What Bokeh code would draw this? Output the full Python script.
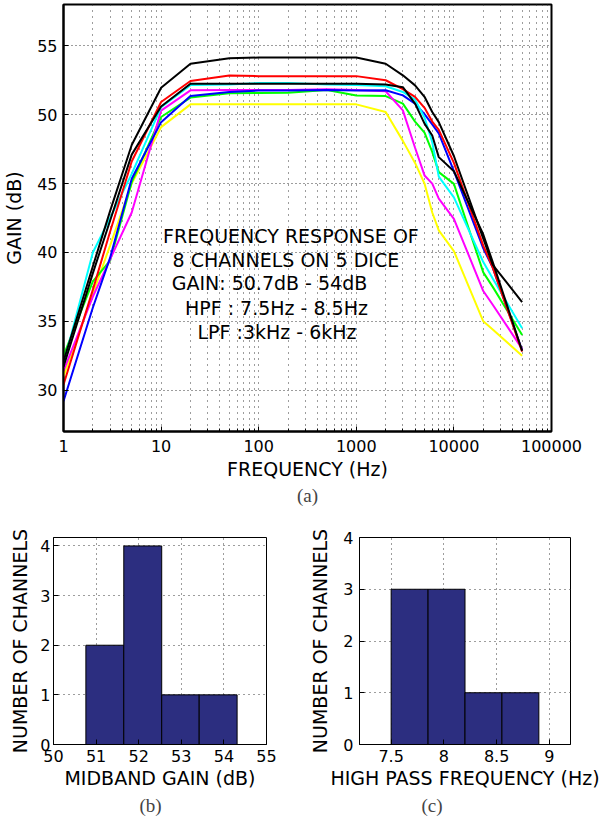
from bokeh.plotting import figure
from bokeh.models import Range1d, FixedTicker, Title
from bokeh.layouts import column, row
from bokeh.core.properties import value
from bokeh.embed import file_html
from bokeh.resources import INLINE

# ---------------- data ----------------
freq_hz = [1, 2, 3, 5, 10, 20, 50, 100, 200, 500, 1000, 2000, 3000, 4000,
           5000, 6000, 7000, 10000, 20000, 25000, 50000]

gain_black_a = [32.1, 39.0, 43.0, 47.8, 51.96, 53.7, 54.1, 54.15, 54.15, 54.15, 54.15,
                53.7, 52.86, 52.13, 51.3, 50.2, 49.46, 47.0, 41.0, 39.1, 36.4]
gain_red = [30.4, 37.3, 41.5, 46.6, 50.92, 52.45, 52.85, 52.8, 52.8, 52.8, 52.8,
            52.5, 51.85, 51.3, 50.5, 49.5, 48.9, 46.5, 40.5, 38.9, 32.8]
gain_black_b = [31.7, 38.5, 42.3, 47.1, 50.6, 52.25, 52.25, 52.25, 52.25, 52.25, 52.25,
                52.2, 52.0, 50.8, 49.35, 48.49, 46.92, 45.9, 41.3, 39.3, 32.85]
gain_cyan = [31.9, 40.0, 42.5, 45.7, 50.55, 52.15, 52.2, 52.3, 52.3, 52.2, 52.15,
             52.06, 51.65, 51.09, 49.8, 48.0, 45.5, 44.0, 39.3, 38.1, 34.5]
gain_blue = [29.2, 36.0, 39.6, 45.35, 49.46, 51.35, 51.65, 51.75, 51.75, 51.8, 51.75,
             51.77, 51.4, 50.8, 50.04, 49.3, 48.64, 45.9, 40.3, 38.9, 32.9]
gain_magenta = [31.4, 36.8, 39.5, 42.9, 50.3, 51.77, 51.8, 51.8, 51.8, 51.85, 51.8,
                51.7, 50.31, 47.6, 45.59, 45.0, 43.9, 42.44, 37.2, 36.2, 33.0]
gain_green = [32.5, 37.9, 39.4, 45.1, 49.83, 51.24, 51.55, 51.57, 51.6, 51.8, 51.4,
              51.35, 50.8, 49.5, 48.7, 47.3, 45.83, 44.98, 38.55, 37.5, 34.0]
gain_yellow = [31.0, 37.0, 40.5, 45.0, 49.1, 50.75, 50.75, 50.75, 50.75, 50.75, 50.75,
               50.2, 48.1, 46.5, 45.0, 42.9, 41.6, 40.1, 35.0, 34.4, 32.5]

series = [
    ("#ffff00", gain_yellow),
    ("#00ff00", gain_green),
    ("#ff00ff", gain_magenta),
    ("#0000ff", gain_blue),
    ("#00ffff", gain_cyan),
    ("#ff0000", gain_red),
    ("#000000", gain_black_b),
    ("#000000", gain_black_a),
]

x_ticks = [1, 10, 100, 1000, 10000, 100000]
x_tick_labels = ["1", "10", "100", "1000", "10000", "100000"]
x_minor_ticks = [k * 10 ** d for d in range(0, 5) for k in range(2, 10)]
y_ticks = [30, 35, 40, 45, 50, 55]

note_lines = ["FREQUENCY RESPONSE OF", "8 CHANNELS ON 5 DICE", "GAIN: 50.7dB - 54dB",
              "HPF : 7.5Hz - 8.5Hz", "LPF :3kHz - 6kHz"]
note_x = [214, 190, 129, 152, 154]
note_y = [41.22, 39.47, 37.75, 35.98, 34.19]

gain_bin_edges = [50.76, 51.65, 52.54, 53.42, 54.31]
gain_bin_counts = [2, 4, 1, 1]
gain_ticks = [50, 51, 52, 53, 54, 55]

hpf_bin_edges = [7.5, 7.85, 8.2, 8.55, 8.9]
hpf_bin_counts = [3, 3, 1, 1]
hpf_ticks = [7.5, 8, 8.5, 9]
hpf_tick_labels = ["7.5", "8", "8.5", "9"]
count_ticks = [0, 1, 2, 3, 4]

SANS = "DejaVu Sans"
SERIF = "Liberation Serif"
BAR = "#2c2e80"
GRID = "#3a3a3a"


def style_axes(fig, tick_px, label_px, line_w):
    for ax in fig.axis:
        ax.major_label_text_font = SANS
        ax.major_label_text_font_size = f"{tick_px}px"
        ax.major_label_text_color = "black"
        ax.axis_label_text_font = SANS
        ax.axis_label_text_font_size = f"{label_px}px"
        ax.axis_label_text_font_style = "normal"
        ax.axis_label_text_color = "black"
        ax.axis_line_color = "black"
        ax.axis_line_width = line_w
        ax.major_tick_in = 5
        ax.major_tick_out = 0
        ax.major_tick_line_color = "black"
        ax.minor_tick_in = 3
        ax.minor_tick_out = 0
    fig.outline_line_color = "black"
    fig.outline_line_width = line_w
    fig.outline_line_alpha = 1.0


# ---------------- (a) frequency response ----------------
p = figure(width=602, height=507, x_axis_type="log",
           x_range=Range1d(1, 100000), y_range=Range1d(27, 58),
           output_backend="svg", toolbar_location=None,
           min_border_left=63, min_border_right=51, min_border_top=4,
           min_border_bottom=76, background_fill_color="white")

for color, gains in series:
    p.line(freq_hz, gains, line_color=color, line_width=2)

for txt, tx, ty in zip(note_lines, note_x, note_y):
    p.text(x=[tx], y=[ty], text=[txt], text_align="center", text_baseline="middle",
           text_font=value(SANS), text_font_size="19px", text_color="black")

xt = FixedTicker(ticks=x_ticks, minor_ticks=x_minor_ticks)
p.xaxis.ticker = xt
p.xaxis.major_label_overrides = {t: l for t, l in zip(x_ticks, x_tick_labels)}
p.yaxis.ticker = FixedTicker(ticks=y_ticks)
p.yaxis.minor_tick_line_color = None
p.xaxis.axis_label = "FREQUENCY (Hz)"
p.yaxis.axis_label = "GAIN (dB)"
style_axes(p, 16, 19, 2)
p.xaxis.major_label_standoff = 8
p.xaxis.axis_label_standoff = 3
p.yaxis.major_label_standoff = 6
p.yaxis.axis_label_standoff = 9

p.xgrid.grid_line_color = GRID
p.xgrid.grid_line_dash = "1 5"
p.xgrid.minor_grid_line_color = GRID
p.xgrid.minor_grid_line_dash = "1 5"
p.ygrid.grid_line_color = GRID
p.ygrid.grid_line_dash = "1 3"
p.add_layout(Title(text="(a)", align="center", text_font=SERIF, text_font_size="19px",
                   text_font_style="normal", standoff=0), "below")


def hist_fig(x_lo, x_hi, y_hi, border_left, frame_w, border_right):
    return figure(width=border_left + frame_w + border_right,
                  height=316, x_range=Range1d(x_lo, x_hi), y_range=Range1d(0, y_hi),
                  output_backend="svg", toolbar_location=None,
                  min_border_left=border_left, min_border_right=border_right,
                  min_border_top=30, min_border_bottom=79)


# ---------------- (b) midband gain histogram ----------------
pb = hist_fig(50, 55, 4.17, 53, 213, 30)
pb.quad(left=gain_bin_edges[:-1], right=gain_bin_edges[1:], top=gain_bin_counts,
        bottom=0, fill_color=BAR, line_color="black", line_width=1)
pb.xaxis.ticker = FixedTicker(ticks=gain_ticks)
pb.yaxis.ticker = FixedTicker(ticks=count_ticks)
pb.xaxis.axis_label = "MIDBAND GAIN (dB)"
pb.yaxis.axis_label = "NUMBER OF CHANNELS"
style_axes(pb, 16, 19, 1)
pb.xaxis.major_label_standoff = 5
pb.yaxis.major_label_standoff = 3
pb.xaxis.axis_label_standoff = 2
pb.yaxis.axis_label_standoff = 6
for g in (pb.xgrid, pb.ygrid):
    g.grid_line_color = GRID
    g.grid_line_dash = "1 4"
pb.add_layout(Title(text="(b)", align="left", offset=86, text_font=SERIF,
                    text_font_size="19px", text_font_style="normal", standoff=2), "below")

# ---------------- (c) high pass frequency histogram ----------------
pc = hist_fig(7.2, 9.2, 4, 63, 211, 32)
pc.quad(left=hpf_bin_edges[:-1], right=hpf_bin_edges[1:], top=hpf_bin_counts,
        bottom=0, fill_color=BAR, line_color="black", line_width=1)
pc.xaxis.ticker = FixedTicker(ticks=hpf_ticks)
pc.xaxis.major_label_overrides = {t: l for t, l in zip(hpf_ticks, hpf_tick_labels)}
pc.yaxis.ticker = FixedTicker(ticks=count_ticks)
pc.xaxis.axis_label = "HIGH PASS FREQUENCY (Hz)"
pc.yaxis.axis_label = "NUMBER OF CHANNELS"
style_axes(pc, 16, 19, 1)
pc.xaxis.major_label_standoff = 5
pc.yaxis.major_label_standoff = 6
pc.xaxis.axis_label_standoff = 2
pc.yaxis.axis_label_standoff = 9
for g in (pc.xgrid, pc.ygrid):
    g.grid_line_color = GRID
    g.grid_line_dash = "1 4"
pc.add_layout(Title(text="(c)", align="left", offset=62, text_font=SERIF,
                    text_font_size="19px", text_font_style="normal", standoff=2), "below")

layout = column(p, row(pb, pc))
open("out.html", "w").write(file_html(layout, INLINE))
